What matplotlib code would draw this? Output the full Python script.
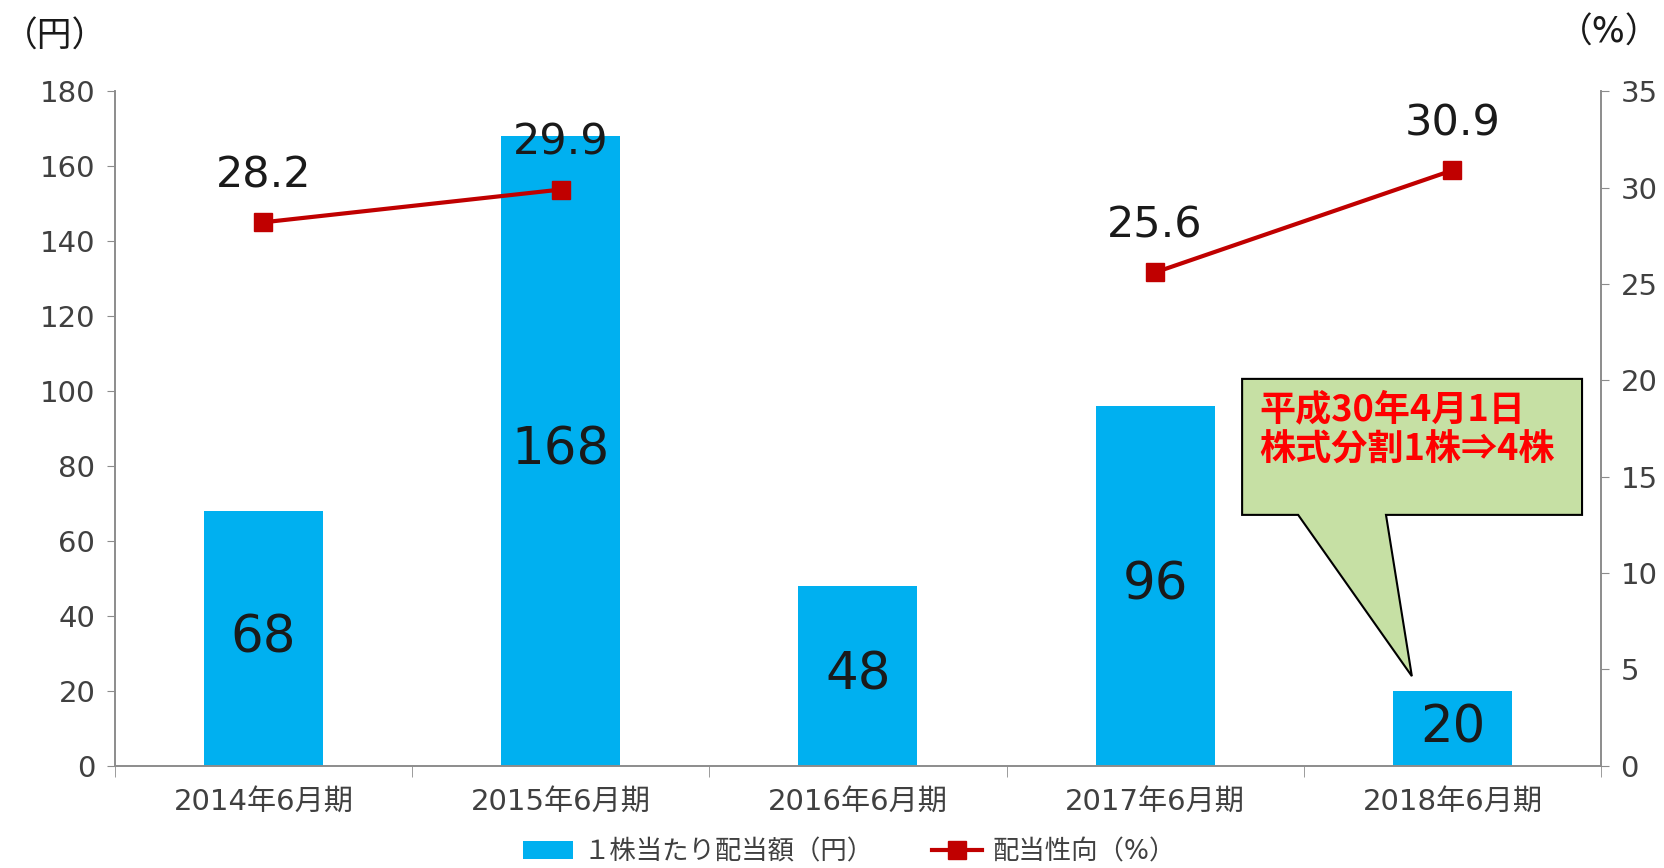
import matplotlib
matplotlib.use("Agg")
import matplotlib.pyplot as plt
from matplotlib.patches import Polygon
import numpy as np

plt.rcParams['font.family'] = ['DejaVu Sans', 'Noto Sans CJK JP']

# Daten
periods = ["2014年6月期", "2015年6月期", "2016年6月期", "2017年6月期", "2018年6月期"]
dividend = [68, 168, 48, 96, 20]
payout = [28.2, 29.9, np.nan, 25.6, 30.9]
payout_labels = ["28.2", "29.9", "", "25.6", "30.9"]

bar_color = "#00B0F0"
line_color = "#C00000"
text_color = "#1a1a1a"
tick_color = "#404040"
spine_color = "#8c8c8c"

fig = plt.figure(figsize=(16.65, 8.68), dpi=100)
ax = fig.add_axes([0.0689, 0.118, 0.8927, 0.7768])
ax2 = ax.twinx()

x = np.arange(len(periods))

# Balken
ax.bar(x, dividend, width=0.4, color=bar_color, zorder=2,
       label="１株当たり配当額（円）")
for xi, v in zip(x, dividend):
    ax.text(xi, v / 2, str(v), ha="center", va="center", fontsize=37,
            color=text_color, zorder=3)

ax.set_xlim(-0.5, len(periods) - 0.5)
ax.set_ylim(0, 180)
ax.set_yticks(np.arange(0, 181, 20))
ax.set_xticks(x)
ax.set_xticklabels(periods, fontsize=21, color=tick_color)
ax.set_xticks(np.arange(-0.5, len(periods), 1.0), minor=True)
ax.tick_params(axis="x", which="major", length=0, pad=16)
ax.tick_params(axis="x", which="minor", length=8, color=spine_color, direction="out")
ax.tick_params(axis="y", labelsize=21, labelcolor=tick_color, length=6,
               color=spine_color, pad=8)

# Linie
ax2.plot(x, payout, color=line_color, linewidth=3, marker="s", markersize=13,
         zorder=4, label="配当性向（%）")
for xi, v, lab in zip(x, payout, payout_labels):
    if lab:
        ax2.annotate(lab, (xi, v), xytext=(0, 34), textcoords="offset points",
                     ha="center", va="center", fontsize=31, color=text_color)
ax2.set_ylim(0, 35)
ax2.set_yticks(np.arange(0, 36, 5))
ax2.tick_params(axis="y", labelsize=21, labelcolor=tick_color, length=6,
                color=spine_color, pad=8)

for a in (ax, ax2):
    a.spines["top"].set_visible(False)
    for s in ("left", "right", "bottom"):
        a.spines[s].set_color(spine_color)
        a.spines[s].set_linewidth(1.2)

# Sprechblase (Achsenkoordinaten)
callout = [(0.7585, 0.5735), (0.9872, 0.5735), (0.9872, 0.3718),
           (0.8553, 0.3718), (0.8727, 0.1326), (0.7962, 0.3718),
           (0.7585, 0.3718)]
ax2.add_patch(Polygon(callout, closed=True, transform=ax2.transAxes,
                      facecolor="#C6E0A4", edgecolor="black", linewidth=1.5,
                      zorder=5, clip_on=False))
ax2.text(0.770, 0.555, "平成30年4月1日\n株式分割1株⇒4株", transform=ax2.transAxes,
         ha="left", va="top", fontsize=26, fontweight="bold", color="#FF0000",
         family="Noto Sans CJK JP", linespacing=1.12, zorder=6)

# Einheiten
fig.text(0.002, 0.958, "（円）", fontsize=25, color=text_color, ha="left", va="center")
fig.text(0.997, 0.962, "（%）", fontsize=25, color=text_color, ha="right", va="center")

# Legende
h1, l1 = ax.get_legend_handles_labels()
h2, l2 = ax2.get_legend_handles_labels()
fig.legend(h1 + h2, l1 + l2, loc="center", bbox_to_anchor=(0.51, 0.018),
           ncol=2, frameon=False, fontsize=19, handlelength=1.9,
           handletextpad=0.4, columnspacing=2.2, labelcolor=tick_color)

fig.savefig("out.png", dpi=100)
